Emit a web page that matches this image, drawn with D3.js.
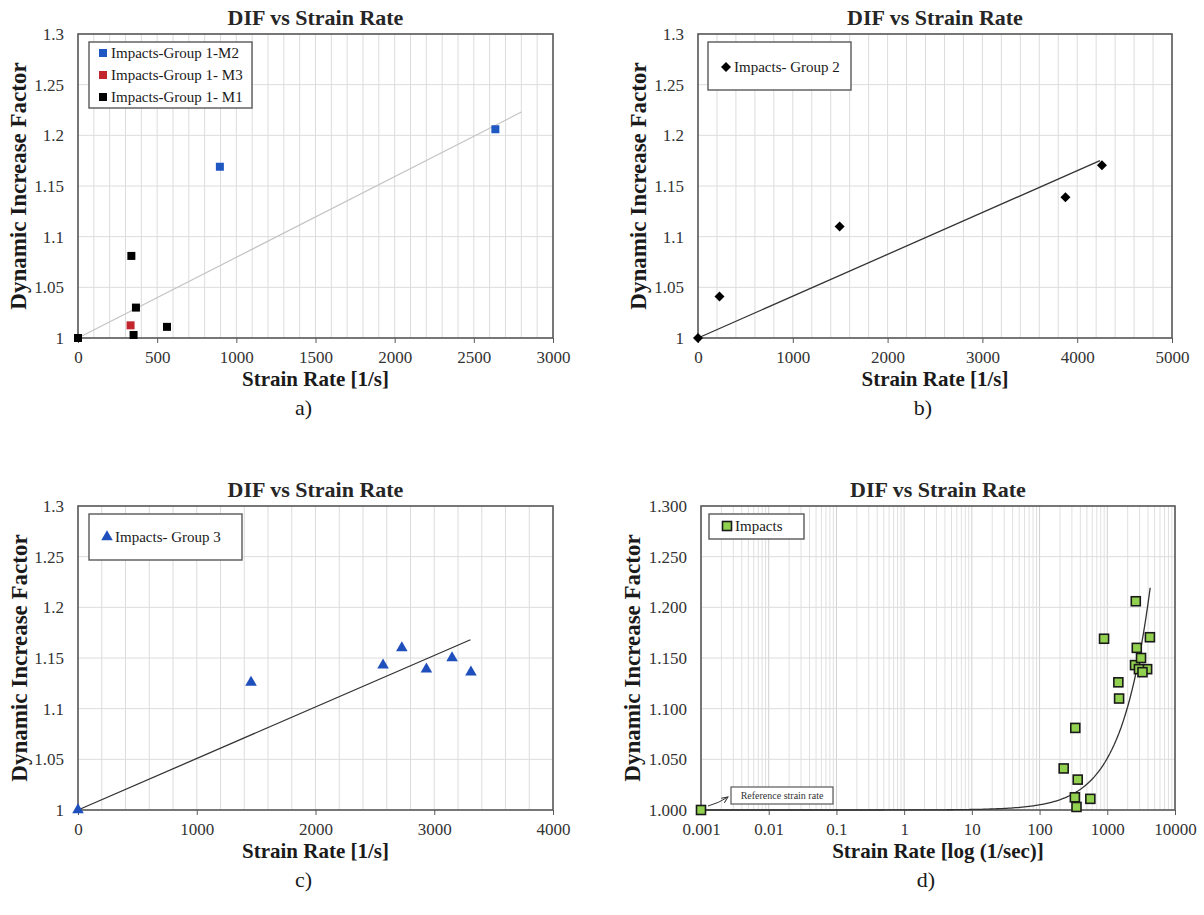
<!DOCTYPE html>
<html>
<head>
<meta charset="utf-8">
<script src="https://cdn.jsdelivr.net/npm/d3@7"></script>
<style>
  body { margin: 0; background: #fff; }
  text { font-family: "Liberation Serif", "Times New Roman", serif; }
</style>
</head>
<body>
<svg width="1204" height="915"></svg>
<script>
// data: [strain rate (1/s), DIF]
const group1M2 = [[896, 1.169], [2636, 1.206]];
const group1M3 = [[332, 1.0125]];
const group1M1 = [[0, 1.0], [337, 1.081], [366, 1.030], [351, 1.003], [562, 1.011]];
const group2 = [[0, 1.0], [227, 1.041], [1494, 1.110], [3876, 1.139], [4261, 1.1705]];
const group3 = [[0, 1.0], [1457, 1.126], [2569, 1.143], [2727, 1.160], [2934, 1.139], [3150, 1.150], [3309, 1.136]];
const referencePoint = [[0.001, 1.0]];

// trend lines (end points as drawn in the figure)
const trendA = [[0, 1.0], [2800, 1.223]];
const trendB = [[0, 1.0], [4240, 1.175]];
const trendC = [[0, 1.0], [3305, 1.168]];
// fitted curve of panel d: DIF = 1 + slope * rate
const fitSlopeD = 5.1e-5;
const fitRangeD = [0.001, 4300];

const yTicksLinear = [1, 1.05, 1.1, 1.15, 1.2, 1.25, 1.3];
const xTicksA = [0, 500, 1000, 1500, 2000, 2500, 3000];
const xTicksB = [0, 1000, 2000, 3000, 4000, 5000];
const xTicksC = [0, 1000, 2000, 3000, 4000];
const xTicksD = [0.001, 0.01, 0.1, 1, 10, 100, 1000, 10000];

// all impacts on one log chart: every non-zero rate plus the reference rate
const impactsAll = referencePoint.concat(
  group1M2, group1M3, group1M1, group2, group3
).filter(d => d[0] > 0);

const svg = d3.select('svg');

const panels = [
  {
    tag: 'a)', left: 78, top: 34, width: 475, height: 304,
    xDomain: [0, 3000], xTicks: xTicksA, gridStep: 100,
    xLabel: 'Strain Rate [1/s]', yLabelX: 18,
    lines: [{ data: trendA, color: '#c4c4c4', width: 1.2 }],
    series: [
      { name: 'Impacts-Group 1-M2', data: group1M2, shape: 'square', fill: '#1f57c3' },
      { name: 'Impacts-Group 1- M3', data: group1M3, shape: 'square', fill: '#c4262e' },
      { name: 'Impacts-Group 1- M1', data: group1M1, shape: 'square', fill: '#000' },
    ],
    legend: { x: 89, y: 42, w: 163, h: 66, rowH: 22, padTop: 11 },
  },
  {
    tag: 'b)', left: 698, top: 34, width: 474, height: 304,
    xDomain: [0, 5000], xTicks: xTicksB, gridStep: 200,
    xLabel: 'Strain Rate [1/s]', yLabelX: 638,
    lines: [{ data: trendB, color: '#333', width: 1.3 }],
    series: [
      { name: 'Impacts- Group 2', data: group2, shape: 'diamond', fill: '#000' },
    ],
    legend: { x: 708, y: 42, w: 143, h: 48, rowH: 22, padTop: 25 },
  },
  {
    tag: 'c)', left: 78, top: 506, width: 475, height: 304,
    xDomain: [0, 4000], xTicks: xTicksC, gridStep: 200,
    xLabel: 'Strain Rate [1/s]', yLabelX: 19,
    lines: [{ data: trendC, color: '#333', width: 1.3 }],
    series: [
      { name: 'Impacts- Group 3', data: group3, shape: 'triangle', fill: '#1f4fbd' },
    ],
    legend: { x: 89, y: 514, w: 153, h: 46, rowH: 22, padTop: 23 },
  },
  {
    tag: 'd)', left: 701, top: 506, width: 474, height: 304, log: true,
    xDomain: [0.001, 10000], xTicks: xTicksD,
    xLabel: 'Strain Rate [log (1/sec)]', yLabelX: 632, yFormat: d3.format('.3f'),
    curve: true,
    series: [
      { name: 'Impacts', data: impactsAll, shape: 'square', fill: '#92d050', stroke: '#1a1a1a' },
    ],
    legend: { x: 709, y: 514, w: 95, h: 25, rowH: 22, padTop: 12 },
    note: 'Reference strain rate',
  },
];

function drawMarker(sel, shape, fill, stroke) {
  if (shape === 'square') {
    const s = stroke ? 9 : 8;
    sel.append('rect')
      .attr('x', -s / 2).attr('y', -s / 2)
      .attr('width', s).attr('height', s)
      .attr('fill', fill)
      .attr('stroke', stroke || 'none')
      .attr('stroke-width', stroke ? 1.6 : 0);
  } else if (shape === 'diamond') {
    sel.append('path')
      .attr('d', 'M0,-5L5,0L0,5L-5,0Z')
      .attr('fill', fill);
  } else {
    sel.append('path')
      .attr('d', d3.symbol().type(d3.symbolTriangle).size(58)())
      .attr('fill', fill);
  }
}

function drawPanel(p) {
  const g = svg.append('g');
  const right = p.left + p.width;
  const bottom = p.top + p.height;

  const x = (p.log ? d3.scaleLog() : d3.scaleLinear())
    .domain(p.xDomain)
    .range([p.left, right]);
  const y = d3.scaleLinear().domain([1, 1.3]).range([bottom, p.top]);

  // vertical grid
  let gridX;
  if (p.log) {
    gridX = x.ticks();
  } else {
    gridX = d3.range(p.xDomain[0], p.xDomain[1] + 1, p.gridStep);
  }
  g.append('g')
    .selectAll('line')
    .data(gridX)
    .join('line')
    .attr('x1', d => x(d)).attr('x2', d => x(d))
    .attr('y1', p.top).attr('y2', bottom)
    .attr('stroke', d => {
      if (!p.log) return '#dcdcdc';
      return Math.abs(Math.log10(d) - Math.round(Math.log10(d))) < 1e-9 ? '#d0d0d0' : '#e0e0e0';
    })
    .attr('stroke-width', 1);

  // horizontal grid
  g.append('g')
    .selectAll('line')
    .data(yTicksLinear)
    .join('line')
    .attr('x1', p.left).attr('x2', right)
    .attr('y1', d => y(d)).attr('y2', d => y(d))
    .attr('stroke', '#dcdcdc')
    .attr('stroke-width', 1);

  // axes
  const xAxis = d3.axisBottom(x)
    .tickValues(p.xTicks)
    .tickSize(5)
    .tickPadding(8)
    .tickFormat(p.log ? d3.format('~g') : d3.format('d'));
  const xg = g.append('g').attr('transform', `translate(0,${bottom})`).call(xAxis);

  const yAxis = d3.axisLeft(y)
    .tickValues(yTicksLinear)
    .tickSize(0)
    .tickPadding(14)
    .tickFormat(p.yFormat || (d => String(+d.toFixed(2))));
  const yg = g.append('g').attr('transform', `translate(${p.left},0)`).call(yAxis);

  [xg, yg].forEach(a => {
    a.select('.domain').remove();
    a.selectAll('line').attr('stroke', '#595959');
    a.selectAll('text')
      .attr('font-size', 17)
      .attr('fill', '#333')
      .style('font-family', '"Liberation Serif", serif');
  });

  // plot border
  g.append('rect')
    .attr('x', p.left).attr('y', p.top)
    .attr('width', p.width).attr('height', p.height)
    .attr('fill', 'none')
    .attr('stroke', '#595959')
    .attr('stroke-width', 1.6);

  // trend lines
  const line = d3.line().x(d => x(d[0])).y(d => y(d[1]));
  (p.lines || []).forEach(l => {
    g.append('path')
      .attr('d', line(l.data))
      .attr('fill', 'none')
      .attr('stroke', l.color)
      .attr('stroke-width', l.width);
  });
  if (p.curve) {
    const lo = Math.log10(fitRangeD[0]);
    const hi = Math.log10(fitRangeD[1]);
    const pts = d3.range(0, 201).map(i => {
      const r = Math.pow(10, lo + (hi - lo) * i / 200);
      return [r, 1 + fitSlopeD * r];
    });
    g.append('path')
      .attr('d', line(pts))
      .attr('fill', 'none')
      .attr('stroke', '#333')
      .attr('stroke-width', 1.3);
  }

  // points
  p.series.forEach(s => {
    g.append('g')
      .selectAll('g')
      .data(s.data)
      .join('g')
      .attr('transform', d => `translate(${x(d[0])},${y(d[1])})`)
      .each(function() {
        drawMarker(d3.select(this), s.shape, s.fill, s.stroke);
      });
  });

  // legend
  const L = p.legend;
  g.append('rect')
    .attr('x', L.x).attr('y', L.y)
    .attr('width', L.w).attr('height', L.h)
    .attr('fill', '#fff')
    .attr('stroke', '#595959')
    .attr('stroke-width', 1.4);
  p.series.forEach((s, i) => {
    const row = g.append('g')
      .attr('transform', `translate(${L.x + (s.shape === 'square' && !s.stroke ? 14 : 18)},${L.y + L.padTop + i * L.rowH})`);
    drawMarker(row, s.shape, s.fill, s.stroke);
    row.append('text')
      .attr('x', 8)
      .attr('dy', '0.33em')
      .attr('font-size', 15)
      .attr('fill', '#1a1a1a')
      .text(s.name);
  });

  // reference strain rate note (panel d)
  if (p.note) {
    const rx = x(referencePoint[0][0]);
    const ry = y(referencePoint[0][1]);
    svg.append('defs').append('marker')
      .attr('id', 'arrow')
      .attr('viewBox', '0 0 10 10')
      .attr('refX', 9).attr('refY', 5)
      .attr('markerWidth', 7).attr('markerHeight', 7)
      .attr('orient', 'auto')
      .append('path')
      .attr('d', 'M0,1 L9,5 L0,9')
      .attr('fill', 'none')
      .attr('stroke', '#333')
      .attr('stroke-width', 1.4);
    g.append('path')
      .attr('d', `M${rx + 7},${ry - 4} Q${rx + 18},${ry - 7} ${rx + 27},${ry - 13}`)
      .attr('fill', 'none')
      .attr('stroke', '#333')
      .attr('stroke-width', 1)
      .attr('marker-end', 'url(#arrow)');
    g.append('rect')
      .attr('x', rx + 30).attr('y', ry - 23)
      .attr('width', 102).attr('height', 17)
      .attr('fill', '#fff')
      .attr('stroke', '#595959')
      .attr('stroke-width', 1.2);
    g.append('text')
      .attr('x', rx + 81).attr('y', ry - 14.5)
      .attr('dy', '0.33em')
      .attr('text-anchor', 'middle')
      .attr('font-size', 10)
      .attr('fill', '#333')
      .text(p.note);
  }

  // titles
  g.append('text')
    .attr('x', p.left + p.width / 2)
    .attr('y', p.top - 9)
    .attr('text-anchor', 'middle')
    .attr('font-size', 22)
    .attr('font-weight', 'bold')
    .attr('fill', '#262626')
    .text('DIF vs Strain Rate');

  g.append('text')
    .attr('x', p.left + p.width / 2)
    .attr('y', bottom + 48)
    .attr('text-anchor', 'middle')
    .attr('font-size', 21)
    .attr('font-weight', 'bold')
    .attr('fill', '#1a1a1a')
    .text(p.xLabel);

  g.append('text')
    .attr('transform', `translate(${p.yLabelX},${p.top + p.height / 2}) rotate(-90)`)
    .attr('dy', '0.35em')
    .attr('text-anchor', 'middle')
    .attr('font-size', 23)
    .attr('font-weight', 'bold')
    .attr('fill', '#1a1a1a')
    .text('Dynamic Increase Factor');

  g.append('text')
    .attr('x', p.left + p.width / 2 - 12)
    .attr('y', bottom + 77)
    .attr('text-anchor', 'middle')
    .attr('font-size', 22)
    .attr('fill', '#1a1a1a')
    .text(p.tag);
}

panels.forEach(drawPanel);
</script>
</body>
</html>
